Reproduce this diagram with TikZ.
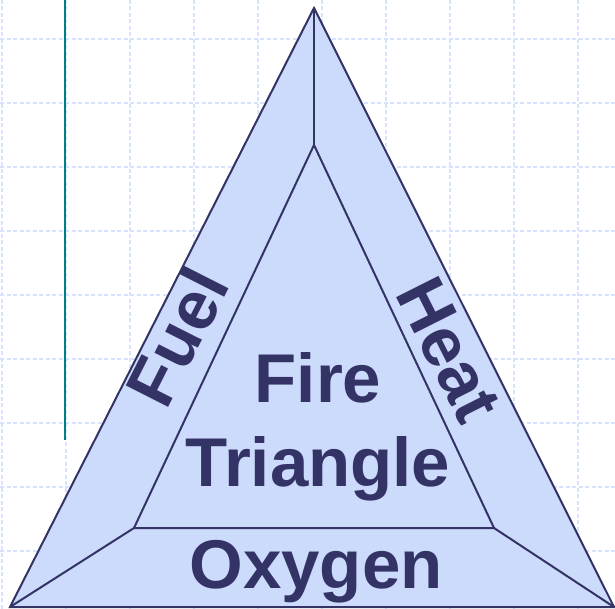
\documentclass[tikz,border=0pt]{standalone}
\usepackage{fontspec}
\setmainfont{Liberation Sans}
\usepackage{tikz}
\usetikzlibrary{positioning,calc}

\definecolor{navy}{RGB}{51,51,102}
\definecolor{paleblue}{RGB}{204,218,252}
\definecolor{gridblue}{RGB}{214,226,255}
\definecolor{tealline}{RGB}{0,128,128}

\begin{document}
\begin{tikzpicture}[
    x=1pt, y=-1pt,
    gridline/.style={draw=gridblue, line width=1.2pt, dash pattern=on 4pt off 2.5pt},
    edge/.style={draw=navy, line width=2pt, line join=miter},
    lbl/.style={font=\bfseries\fontsize{69}{84}\selectfont, text=navy, inner sep=0pt, align=center}
]
\useasboundingbox (0,0) rectangle (615,609);

% background grid
\foreach \gx in {2,66,...,578}
    \draw[gridline] (\gx,0) -- (\gx,609);
\foreach \gy in {39,103,...,551}
    \draw[gridline] (0,\gy) -- (615,\gy);
\draw[tealline, line width=2pt] (65,0) -- (65,440);

% corners
\coordinate (top) at (314,8);
\coordinate (left) at (10,607);
\coordinate (right) at (614,607);
\coordinate (itop) at (314,145);
\coordinate (ileft) at (134,528);
\coordinate (iright) at (494,528);

\fill[paleblue] (top) -- (right) -- (left) -- cycle;
\draw[edge] (top) -- (right) -- (left) -- cycle;
\draw[edge] (itop) -- (iright) -- (ileft) -- cycle;
\draw[edge] (itop) -- (top);
\draw[edge] (ileft) -- (left);
\draw[edge] (iright) -- (right);

\node[lbl] (fire) at (318,427) {Fire\\Triangle};
\node[lbl, anchor=base] (oxygen) at (316,588) {Oxygen};
\node[lbl, rotate=63.1] (fuel) at (177,337) {Fuel};
\node[lbl, rotate=-63.3] (heat) at (449,350) {Heat};
\end{tikzpicture}
\end{document}
